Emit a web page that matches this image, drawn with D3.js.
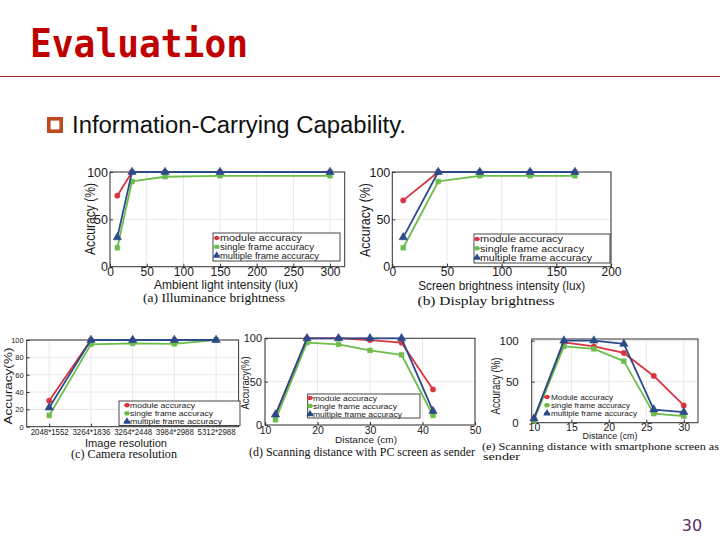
<!DOCTYPE html>
<html><head><meta charset="utf-8">
<script src="https://cdn.jsdelivr.net/npm/d3@7"></script>
<style>html,body{margin:0;padding:0;background:#fff;} svg{display:block;}</style>
</head><body>
<script>
// ---------- data ----------
const seriesLabels = ["module accuracy", "single frame accuracy", "multiple frame accuracy"];
const seriesLabelsE = ["Module accuracy", "single frame accuracy", "multiple frame accuracy"];

// (a) Illuminance brightness
const aX = [10, 30, 75, 150, 300];
const aModule = [75, 100, 100, 100, 100];
const aSingle = [20, 90, 95, 96, 96];
const aMultiple = [31, 100, 100, 100, 100];
const aXTicks = [0, 50, 100, 150, 200, 250, 300];
const aYTicks = [0, 50, 100];

// (b) Display brightness
const bX = [10, 42, 80, 126, 167];
const bModule = [70, 100, 100, 100, 100];
const bSingle = [20, 90, 96, 96, 96];
const bMultiple = [31, 100, 100, 100, 100];
const bXTicks = [0, 50, 100, 150, 200];
const bYTicks = [0, 50, 100];

// (c) Camera resolution
const cCategories = ["2048*1552", "3264*1836", "3264*2448", "3984*2988", "5312*2988"];
const cModule = [30, 100, 100, 100, 100];
const cSingle = [13, 95, 96, 95.5, 100];
const cMultiple = [22, 100, 100, 100, 100];
const cYTicks = [0, 20, 40, 60, 80, 100];

// (d) Scanning distance with PC screen
const dX = [12, 18, 24, 30, 36, 42];
const dModule = [11, 100, 100, 98, 95, 41];
const dSingle = [6, 95, 93, 86, 81, 11];
const dMultiple = [12, 100, 100, 100, 100, 16];
const dXTicks = [10, 20, 30, 40, 50];
const dYTicks = [0, 50, 100];

// (e) Scanning distance with smartphone screen
const eX = [10, 14, 18, 22, 26, 30];
const eModule = [5, 98, 93, 85, 57, 21];
const eSingle = [3, 93, 90, 75, 11, 8];
const eMultiple = [5, 100, 100, 96, 16, 13];
const eXTicks = [10, 15, 20, 25, 30];
const eYTicks = [0, 50, 100];

// ---------- style ----------
const colors = ["#DA3440", "#6CBD4A", "#2C4A8A"];
const symbols = [d3.symbolCircle, d3.symbolSquare, d3.symbolTriangle];
const symSizes = [22, 22, 30];
const SANS = "'Liberation Sans', Arial, Helvetica, sans-serif";
const SERIF = "'Liberation Serif', 'Times New Roman', serif";

const svg = d3.select("body").append("svg").attr("width", 720).attr("height", 540)
  .style("background", "#fff");

// ---------- slide header ----------
svg.append("text").attr("x", 30).attr("y", 57)
  .attr("font-family", "'DejaVu Sans Mono', monospace").attr("font-weight", "bold")
  .attr("font-size", 39).attr("fill", "#C00000")
  .attr("textLength", 218).attr("lengthAdjust", "spacingAndGlyphs")
  .text("Evaluation");
svg.append("line").attr("x1", 0).attr("x2", 720).attr("y1", 76.5).attr("y2", 76.5)
  .attr("stroke", "#9E2A2E").attr("stroke-width", 1.2);
svg.append("rect").attr("x", 48.8).attr("y", 118.8).attr("width", 12.4).attr("height", 12.4)
  .attr("fill", "#fff").attr("stroke", "#BB4A1E").attr("stroke-width", 3.6);
svg.append("text").attr("x", 72).attr("y", 133)
  .attr("font-family", SANS).attr("font-size", 23).attr("fill", "#111")
  .attr("textLength", 334).attr("lengthAdjust", "spacingAndGlyphs")
  .text("Information-Carrying Capability.");
svg.append("text").attr("x", 692).attr("y", 531).attr("text-anchor", "middle")
  .attr("font-family", "'DejaVu Sans', Verdana, sans-serif").attr("font-size", 16)
  .attr("fill", "#5B2D6E").text("30");

// ---------- helpers ----------
function addText(g, s, x, y, o) {
  const t = g.append("text").attr("x", x).attr("y", y)
    .attr("font-family", o.family || SANS).attr("font-size", o.fs)
    .attr("fill", o.fill || "#1a1a1a").attr("text-anchor", o.anchor || "start")
    .text(s);
  if (o.width) t.attr("textLength", o.width).attr("lengthAdjust", "spacingAndGlyphs");
  if (o.rotate) {
    t.attr("x", 0).attr("y", 0).attr("dy", "0.35em")
      .attr("transform", `translate(${x},${y}) rotate(-90)`);
  }
  return t;
}

function drawPanel(cfg) {
  const g = svg.append("g");
  const [L, R, T, B] = cfg.box;
  const x = cfg.x;
  const y = d3.scaleLinear().domain(cfg.yDomain).range([B, T]);
  const xPos = v => x(v);

  // grid
  g.selectAll("line.vg").data(cfg.xTicks).join("line").attr("class", "vg")
    .attr("x1", xPos).attr("x2", xPos).attr("y1", T).attr("y2", B)
    .attr("stroke", "#e2e2e2").attr("stroke-width", 0.8);
  g.selectAll("line.hg").data(cfg.yTicks).join("line").attr("class", "hg")
    .attr("x1", L).attr("x2", R).attr("y1", d => y(d)).attr("y2", d => y(d))
    .attr("stroke", "#e2e2e2").attr("stroke-width", 0.8);

  // axes
  const xa = g.append("g").attr("transform", `translate(0,${B})`)
    .call(d3.axisBottom(x).tickValues(cfg.xTicks).tickSize(-3).tickPadding(cfg.xPad));
  xa.attr("font-size", cfg.xfs).attr("font-family", SANS);
  xa.select(".domain").remove();
  xa.selectAll("line").attr("stroke", "#333");
  xa.selectAll("text").attr("fill", "#1a1a1a");
  if (cfg.xTickW) xa.selectAll("text").attr("textLength", cfg.xTickW).attr("lengthAdjust", "spacingAndGlyphs");

  const ya = g.append("g").attr("transform", `translate(${L},0)`)
    .call(d3.axisLeft(y).tickValues(cfg.yTicks).tickSize(-3).tickPadding(cfg.yPad));
  ya.attr("font-size", cfg.yfs).attr("font-family", SANS);
  ya.select(".domain").remove();
  ya.selectAll("line").attr("stroke", "#333");
  ya.selectAll("text").attr("fill", "#1a1a1a");

  // border
  g.append("rect").attr("x", L).attr("y", T).attr("width", R - L).attr("height", B - T)
    .attr("fill", "none").attr("stroke", "#333").attr("stroke-width", 1);

  // series
  const line = d3.line().x(d => xPos(d[0])).y(d => y(d[1]));
  cfg.series.forEach((vals, i) => {
    const pts = cfg.xs.map((xv, k) => [xv, vals[k]]);
    g.append("path").datum(pts).attr("d", line).attr("fill", "none")
      .attr("stroke", colors[i]).attr("stroke-width", 1.8).attr("stroke-linejoin", "round");
    g.selectAll(null).data(pts).join("path")
      .attr("transform", d => `translate(${xPos(d[0])},${y(d[1])})`)
      .attr("d", d3.symbol().type(symbols[i]).size(symSizes[i]))
      .attr("fill", colors[i]).attr("stroke", colors[i]).attr("stroke-width", 0.6);
  });

  // legend
  const lg = cfg.legend;
  if (lg.box) {
    g.append("rect").attr("x", lg.box[0]).attr("y", lg.box[1])
      .attr("width", lg.box[2]).attr("height", lg.box[3])
      .attr("fill", "#fff").attr("stroke", "#333").attr("stroke-width", 0.9);
  }
  lg.labels.forEach((s, i) => {
    const ry = lg.rows[i];
    g.append("line").attr("x1", lg.mx - 3).attr("x2", lg.mx + 3).attr("y1", ry).attr("y2", ry)
      .attr("stroke", colors[i]).attr("stroke-width", 1.5);
    g.append("path").attr("transform", `translate(${lg.mx},${ry})`)
      .attr("d", d3.symbol().type(symbols[i]).size(symSizes[i] * 0.8))
      .attr("fill", colors[i]);
    addText(g, s, lg.tx, ry + lg.fs * 0.35, { fs: lg.fs, width: lg.widths[i] });
  });

  // labels
  addText(g, cfg.ylabel.text, cfg.ylabel.x, cfg.ylabel.y,
    { fs: cfg.ylabel.fs, rotate: true, anchor: "middle", width: cfg.ylabel.w });
  addText(g, cfg.xlabel.text, cfg.xlabel.x, cfg.xlabel.y,
    { fs: cfg.xlabel.fs, anchor: "middle", width: cfg.xlabel.w });
  cfg.captions.forEach(c => {
    addText(g, c.text, c.x, c.y, { fs: c.fs, family: SERIF, anchor: c.anchor || "middle", width: c.w, fill: "#111" });
  });
}

// ---------- panels ----------
drawPanel({
  box: [110, 344.7, 172, 266.7],
  x: d3.scaleLinear().domain([0, 320]).range([110, 344.7]),
  yDomain: [0, 100], xs: aX, series: [aModule, aSingle, aMultiple],
  xTicks: aXTicks, yTicks: aYTicks, xfs: 12, yfs: 12.5, xPad: 1, yPad: 2,
  legend: { box: [213, 233, 127, 28], mx: 216.7, tx: 220, rows: [238, 246.8, 255.6], fs: 9,
    labels: seriesLabels, widths: [82, 94, 99] },
  ylabel: { text: "Accuracy (%)", x: 90, y: 219, fs: 14, w: 72 },
  xlabel: { text: "Ambient light intensity (lux)", x: 226, y: 289, fs: 12, w: 144 },
  captions: [{ text: "(a) Illuminance brightness", x: 214, y: 302, fs: 12.5, w: 142 }]
});

drawPanel({
  box: [392.3, 611, 172, 266.7],
  x: d3.scaleLinear().domain([0, 200]).range([392.3, 611]),
  yDomain: [0, 100], xs: bX, series: [bModule, bSingle, bMultiple],
  xTicks: bXTicks, yTicks: bYTicks, xfs: 12, yfs: 12.5, xPad: 1, yPad: 2,
  legend: { box: [474, 234, 136, 29], mx: 477, tx: 480, rows: [239, 248.3, 257.6], fs: 9.5,
    labels: seriesLabels, widths: [83, 104, 112] },
  ylabel: { text: "Accuracy (%)", x: 365, y: 220, fs: 14, w: 74 },
  xlabel: { text: "Screen brightness intensity (lux)", x: 501.7, y: 289.5, fs: 12, w: 167 },
  captions: [{ text: "(b) Display brightness", x: 486, y: 304.5, fs: 12.5, w: 137 }]
});

drawPanel({
  box: [26.7, 238.6, 340, 426.7],
  x: d3.scalePoint().domain(cCategories).range([26.7, 238.6]).padding(0.54),
  yDomain: [0, 100], xs: cCategories, series: [cModule, cSingle, cMultiple],
  xTicks: cCategories, yTicks: cYTicks, xfs: 8.5, yfs: 7.5, xPad: 2.5, yPad: 3, xTickW: 38,
  legend: { box: [119, 401, 121, 24.5], mx: 127, tx: 130, rows: [405.2, 413.4, 421.6], fs: 7.5,
    labels: seriesLabels, widths: [65, 83, 92] },
  ylabel: { text: "Accuracy(%)", x: 8, y: 386, fs: 10.5, w: 77 },
  xlabel: { text: "Image resolution", x: 126, y: 446.5, fs: 10.5, w: 82 },
  captions: [{ text: "(c) Camera resolution", x: 124, y: 457.5, fs: 11.5, w: 106 }]
});

drawPanel({
  box: [265, 475, 338.3, 425],
  x: d3.scaleLinear().domain([10, 50]).range([265, 475]),
  yDomain: [0, 100], xs: dX, series: [dModule, dSingle, dMultiple],
  xTicks: dXTicks, yTicks: dYTicks, xfs: 10.5, yfs: 11, xPad: 1.5, yPad: 3,
  legend: { box: [307.7, 394, 112.3, 24], mx: 310, tx: 313, rows: [398, 406, 414], fs: 8,
    labels: seriesLabels, widths: [64, 84, 89] },
  ylabel: { text: "Accuracy(%)", x: 245, y: 383, fs: 11, w: 53 },
  xlabel: { text: "Distance (cm)", x: 366, y: 443, fs: 9.5, w: 62 },
  captions: [{ text: "(d) Scanning distance with PC screen as sender", x: 362, y: 455.5, fs: 12, w: 226 }]
});

drawPanel({
  box: [531.7, 698, 339, 422.7],
  x: d3.scaleLinear().domain([9.7, 31.9]).range([531.7, 698]),
  yDomain: [0, 102], xs: eX, series: [eModule, eSingle, eMultiple],
  xTicks: eXTicks, yTicks: eYTicks, xfs: 10.5, yfs: 11.5, xPad: 1, yPad: 13,
  legend: { box: null, mx: 547, tx: 551, rows: [397, 405.2, 413.4], fs: 8,
    labels: seriesLabelsE, widths: [62, 79, 86] },
  ylabel: { text: "Accuracy (%)", x: 496, y: 386, fs: 12, w: 57 },
  xlabel: { text: "Distance (cm)", x: 610, y: 439, fs: 8.5, w: 55 },
  captions: [
    { text: "(e) Scanning distance with smartphone screen as", x: 482, y: 449.5, fs: 11, w: 237, anchor: "start" },
    { text: "sender", x: 483, y: 459.5, fs: 11, w: 37, anchor: "start" }
  ]
});
</script>
</body></html>
